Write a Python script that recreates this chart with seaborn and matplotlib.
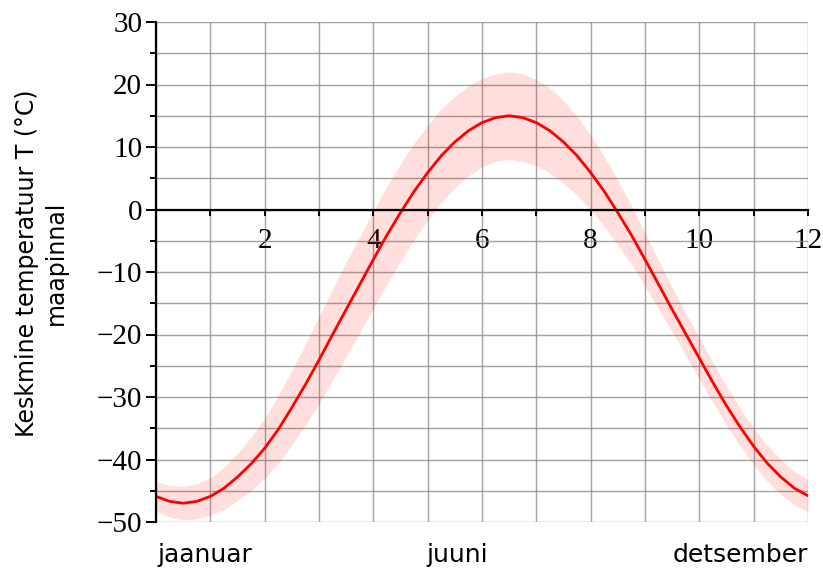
import matplotlib
matplotlib.use("Agg")
import matplotlib.pyplot as plt
import seaborn as sns
import pandas as pd
from matplotlib.ticker import FixedLocator

# ---- data ----
month = [0.0, 0.25, 0.5, 0.75, 1.0, 1.25, 1.5, 1.75, 2.0, 2.25, 2.5, 2.75,
         3.0, 3.25, 3.5, 3.75, 4.0, 4.25, 4.5, 4.75, 5.0, 5.25, 5.5, 5.75,
         6.0, 6.25, 6.5, 6.75, 7.0, 7.25, 7.5, 7.75, 8.0, 8.25, 8.5, 8.75,
         9.0, 9.25, 9.5, 9.75, 10.0, 10.25, 10.5, 10.75, 11.0, 11.25, 11.5,
         11.75, 12.0]
temp = [-45.9, -46.7, -47.0, -46.7, -45.9, -44.6, -42.8, -40.7, -38.2, -35.2,
        -31.7, -28.0, -24.1, -20.0, -16.0, -12.0, -8.0, -4.1, -0.5, 2.9,
        5.9, 8.6, 10.8, 12.6, 13.9, 14.7, 15.0, 14.7, 13.9, 12.6, 10.8, 8.6,
        5.9, 2.9, -0.5, -4.1, -8.0, -12.0, -16.0, -19.9, -23.8, -27.7, -31.4,
        -34.8, -37.9, -40.6, -42.8, -44.6, -45.8]
upper = [-43.5, -44.2, -44.3, -43.9, -42.9, -41.2, -39.0, -36.4, -33.4, -29.8,
         -25.7, -21.5, -17.1, -12.7, -8.4, -4.3, -0.2, 3.7, 7.3, 10.6,
         13.5, 16.1, 18.1, 19.8, 21.0, 21.7, 22.0, 21.7, 20.8, 19.4, 17.4, 14.9,
         11.9, 8.5, 4.7, 0.6, -3.7, -8.1, -12.4, -16.5, -20.5, -24.5, -28.3,
         -31.8, -35.0, -37.7, -40.0, -41.9, -43.2]
lower = [-48.3, -49.2, -49.7, -49.5, -48.9, -48.0, -46.6, -45.0, -43.0, -40.6,
         -37.7, -34.5, -31.1, -27.3, -23.6, -19.7, -15.8, -11.9, -8.3, -4.8,
         -1.7, 1.1, 3.5, 5.4, 6.8, 7.7, 8.0, 7.7, 7.0, 5.8, 4.2, 2.3,
         -0.1, -2.7, -5.7, -8.8, -12.3, -15.9, -19.6, -23.3, -27.1, -30.9, -34.5,
         -37.8, -40.8, -43.5, -45.6, -47.3, -48.4]

x_ticks = [0, 1, 2, 3, 4, 5, 6, 7, 8, 9, 10, 11, 12]
x_tick_labels = ["", "", "2", "", "4", "", "6", "", "8", "", "10", "", "12"]
y_ticks = [-50, -40, -30, -20, -10, 0, 10, 20, 30]
y_minor_ticks = [-45, -35, -25, -15, -5, 5, 15, 25]
month_names = ["jaanuar", "juuni", "detsember"]
ylabel_text = "Keskmine temperatuur T (°C)\nmaapinnal"

# ---- drawing ----
sns.set_style("white")
plt.rcParams["font.family"] = ["DejaVu Sans"]
plt.rcParams["text.color"] = "black"
plt.rcParams["xtick.color"] = "black"
plt.rcParams["ytick.color"] = "black"
plt.rcParams["axes.labelcolor"] = "black"

fig = plt.figure(figsize=(8.23, 5.72), dpi=100)
ax = fig.add_axes([156 / 823, 50 / 572, 652 / 823, 500 / 572])

df = pd.DataFrame({"month": month, "T": temp, "lo": lower, "hi": upper})

ax.fill_between(df["month"], df["lo"], df["hi"], color="#ff0000", alpha=0.13,
                lw=0, zorder=1)
sns.lineplot(data=df, x="month", y="T", color="#ff0000", lw=2.0, ax=ax,
             zorder=4)

ax.set_xlim(0, 12)
ax.set_ylim(-50, 30)

ax.xaxis.set_major_locator(FixedLocator(x_ticks))
ax.set_xticklabels(x_tick_labels)
ax.yaxis.set_major_locator(FixedLocator(y_ticks))
ax.yaxis.set_minor_locator(FixedLocator(y_minor_ticks))

ax.grid(True, which="major", axis="x", color="#8c8c8c", lw=1.0, alpha=0.8,
        zorder=0)
ax.grid(True, which="both", axis="y", color="#8c8c8c", lw=1.0, alpha=0.8,
        zorder=0)
ax.set_axisbelow(True)

for s in ["top", "right"]:
    ax.spines[s].set_visible(False)
ax.spines["left"].set_position(("data", 0))
ax.spines["bottom"].set_position(("data", 0))
for s in ["left", "bottom"]:
    ax.spines[s].set_linewidth(1.6)
    ax.spines[s].set_color("black")
    ax.spines[s].set_zorder(5)

serif = ["Liberation Serif", "DejaVu Serif"]
ax.tick_params(axis="y", which="major", direction="out", length=7, width=1.4,
               pad=3, labelsize=21, left=True)
ax.tick_params(axis="y", which="minor", direction="out", length=4, width=1.4,
               left=True)
ax.tick_params(axis="x", which="major", direction="out", length=4, width=1.4,
               pad=9, labelsize=21, bottom=True)
for lab in ax.get_yticklabels() + ax.get_xticklabels():
    lab.set_fontfamily(serif)

ax.set_xlabel("")
ax.set_ylabel("")

# month captions under the plot
trans = ax.get_xaxis_transform()
ax.text(0.03, -0.066, month_names[0], transform=trans, ha="left", va="center",
        fontsize=18, family="DejaVu Sans")
ax.text(5.54, -0.066, month_names[1], transform=trans, ha="center",
        va="center", fontsize=18, family="DejaVu Sans")
ax.text(12.0, -0.066, month_names[2], transform=trans, ha="right",
        va="center", fontsize=18, family="DejaVu Sans")

fig.text(41 / 823, 1 - 263 / 572, ylabel_text, rotation=90, ha="center",
         va="center", multialignment="center", fontsize=17,
         family="DejaVu Sans", linespacing=1.25)

fig.savefig("out.png", dpi=100, facecolor="white")
